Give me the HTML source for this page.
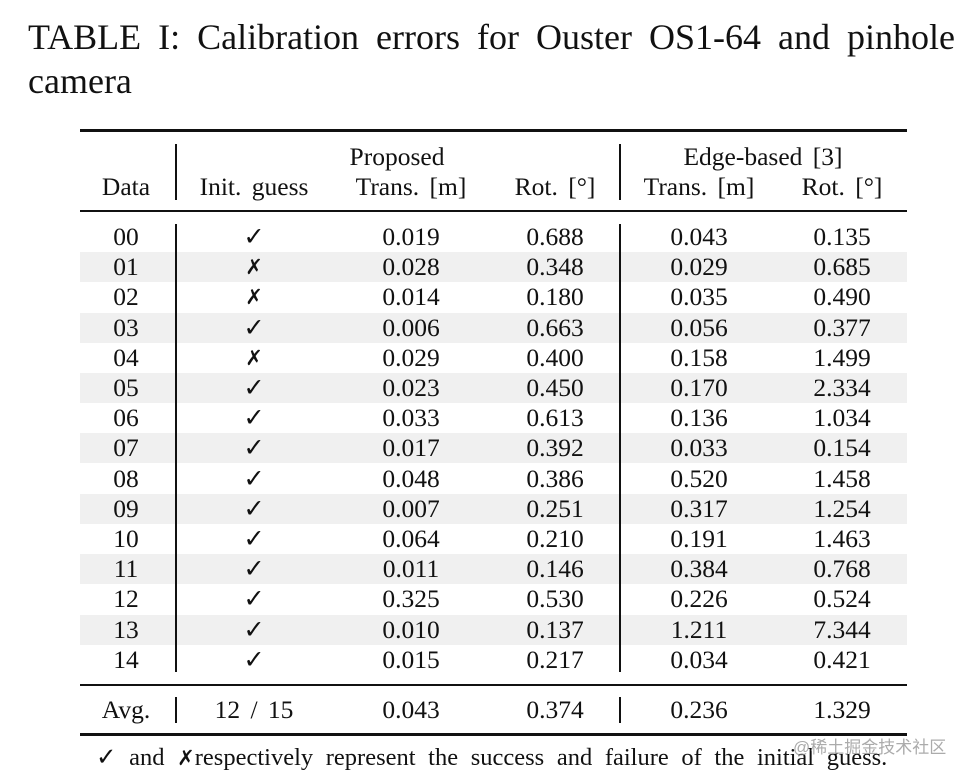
<!DOCTYPE html>
<html><head><meta charset="utf-8"><style>
body{margin:0;width:976px;height:781px;background:#fff;position:relative;overflow:hidden;font-family:"Liberation Serif",serif;color:#111}
.a{position:absolute;white-space:nowrap}
.c{position:absolute;transform:translateX(-50%);font-size:25.5px;line-height:30px;white-space:nowrap;word-spacing:4px;z-index:2}
.rule{position:absolute;left:80px;width:827px;background:#111;z-index:3}
.v{position:absolute;width:1.5px;background:#111;z-index:3}
.stripe{position:absolute;left:80px;width:827px;height:30px;background:#f0f0f0;z-index:1}
</style></head><body>
<div class="a" style="left:28px;top:15px;font-size:36px;line-height:44px;word-spacing:8px">TABLE I: Calibration errors for Ouster OS1-64 and pinhole<br>camera</div>
<div class="rule" style="top:129px;height:2.5px"></div>
<div class="rule" style="top:210px;height:1.5px"></div>
<div class="rule" style="top:684px;height:1.5px"></div>
<div class="rule" style="top:733px;height:2.5px"></div>
<div class="v" style="left:175px;top:144px;height:56px"></div>
<div class="v" style="left:619px;top:144px;height:56px"></div>
<div class="v" style="left:175px;top:224px;height:448px"></div>
<div class="v" style="left:619px;top:224px;height:448px"></div>
<div class="v" style="left:175px;top:697px;height:26px"></div>
<div class="v" style="left:619px;top:697px;height:26px"></div>
<div class="c" style="left:397px;top:142px">Proposed</div>
<div class="c" style="left:763px;top:142px">Edge-based [3]</div>
<div class="c" style="left:126px;top:172px">Data</div>
<div class="c" style="left:254px;top:172px">Init. guess</div>
<div class="c" style="left:411px;top:172px">Trans. [m]</div>
<div class="c" style="left:555px;top:172px">Rot. [°]</div>
<div class="c" style="left:699px;top:172px">Trans. [m]</div>
<div class="c" style="left:842px;top:172px">Rot. [°]</div>
<div id="rows"></div>
<div class="c" style="left:126px;top:695px">Avg.</div>
<div class="c" style="left:254px;top:695px">12 / 15</div>
<div class="c" style="left:411px;top:695px">0.043</div>
<div class="c" style="left:555px;top:695px">0.374</div>
<div class="c" style="left:699px;top:695px">0.236</div>
<div class="c" style="left:842px;top:695px">1.329</div>
<div class="a" style="left:96px;top:743px;font-size:24.5px;line-height:30px;word-spacing:6.5px">✓ and <b style="font-family:'DejaVu Sans',sans-serif;font-size:21px">✗</b>respectively represent the success and failure of the initial guess.</div>
<div class="a" style="left:793px;top:737px;font-size:17px;line-height:22px;color:rgba(150,150,150,0.8);font-family:'Liberation Sans','Noto Sans CJK SC',sans-serif;z-index:4">@稀土掘金技术社区</div>
<script>
var ids=["00","01","02","03","04","05","06","07","08","09","10","11","12","13","14"];
var guess=[1,0,0,1,0,1,1,1,1,1,1,1,1,1,1];
var propTrans=["0.019","0.028","0.014","0.006","0.029","0.023","0.033","0.017","0.048","0.007","0.064","0.011","0.325","0.010","0.015"];
var propRot=["0.688","0.348","0.180","0.663","0.400","0.450","0.613","0.392","0.386","0.251","0.210","0.146","0.530","0.137","0.217"];
var edgeTrans=["0.043","0.029","0.035","0.056","0.158","0.170","0.136","0.033","0.520","0.317","0.191","0.384","0.226","1.211","0.034"];
var edgeRot=["0.135","0.685","0.490","0.377","1.499","2.334","1.034","0.154","1.458","1.254","1.463","0.768","0.524","7.344","0.421"];
(function(){
var root=document.getElementById('rows');
var xs=[126,254,411,555,699,842];
for(var i=0;i<ids.length;i++){
  var rowTop=222+i*30.2;
  if(i%2==1){
    var s=document.createElement('div');s.className='stripe';s.style.top=rowTop+'px';
    
    
    root.appendChild(s);
  }
  var vals=[ids[i],guess[i]?'✓':'✗',propTrans[i],propRot[i],edgeTrans[i],edgeRot[i]];
  for(var j=0;j<6;j++){
    var d=document.createElement('div');d.className='c';
    d.style.left=xs[j]+'px';d.style.top=rowTop+'px';
    d.textContent=vals[j];
    if(j==1&&!guess[i]){d.style.fontFamily="'DejaVu Sans',sans-serif";d.style.fontWeight='bold';d.style.fontSize='21px';}
    
    
    root.appendChild(d);
  }
}
})();
</script>
</body></html>
